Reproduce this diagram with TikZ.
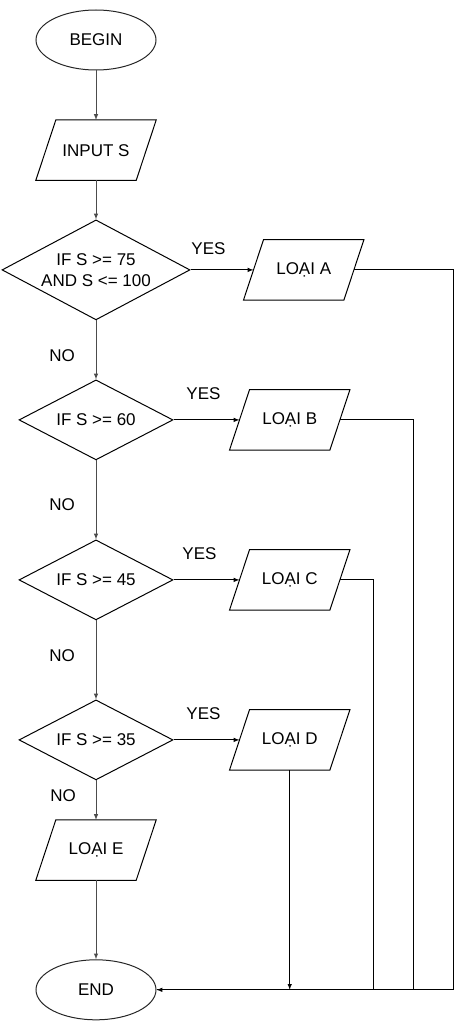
\documentclass[tikz,border=0pt]{standalone}
\usepackage{fontspec}
\setmainfont{Liberation Sans}
\usetikzlibrary{positioning,shapes.geometric}

\begin{document}
\begin{tikzpicture}[x=1pt,y=1pt]
\tikzstyle{txt}=[font=\fontsize{17pt}{21pt}\selectfont]
\tikzstyle{term}=[txt, ellipse, draw=black!85, line width=1pt, minimum width=120pt, minimum height=60pt, inner sep=0pt]
\tikzstyle{io}=[txt, rectangle, minimum width=100pt, minimum height=60pt, inner sep=0pt]
\tikzstyle{cond}=[txt, diamond, aspect=1.9, draw=black, line width=1pt, minimum width=154pt, minimum height=80pt, inner sep=0pt, align=center]
\tikzstyle{connect}=[-latex, line width=1pt]
\tikzstyle{down}=[-latex, line width=1pt, draw=black!70]
\tikzstyle{plain}=[line width=1pt]

  \useasboundingbox (0,0) rectangle (462,-1022);

    % main column
  \node[term] (begin) at (96,-40) {BEGIN};
  \node[io] (input) [below=49.5pt of begin] {INPUT S};
  \node[cond, minimum width=188pt, minimum height=100pt] (if1) [below=39pt of input] {IF S >= 75\\AND S <= 100};
  \node[cond] (if2) [below=59pt of if1] {IF S >= 60};
  \node[cond] (if3) [below=79pt of if2] {IF S >= 45};
  \node[cond] (if4) [below=79pt of if3] {IF S >= 35};
  \node[io] (loaiE) [below=39.5pt of if4] {LOẠI E};
  \node[term] (end) [below=79pt of loaiE] {END};

    % right column
  \node[io] (loaiA) [right=63pt of if1] {LOẠI A};
  \node[io] (loaiB) [right=66pt of if2] {LOẠI B};
  \node[io] (loaiC) [right=66pt of if3] {LOẠI C};
  \node[io] (loaiD) [right=66pt of if4] {LOẠI D};

    % parallelogram outlines
  \foreach \n in {input,loaiA,loaiB,loaiC,loaiD,loaiE}
    \draw[plain] ([xshift=-10pt]\n.south west) -- ([xshift=-10pt]\n.south east)
      -- ([xshift=10pt]\n.north east) -- ([xshift=10pt]\n.north west) -- cycle;

  \coordinate (cornA) at (453,0 |- loaiA.east);
  \coordinate (cornB) at (413,0 |- loaiB.east);
  \coordinate (cornC) at (373,0 |- loaiC.east);

    % labels
  \node[txt, xshift=18pt, yshift=21pt] (yes1) at (if1.east) {YES};
  \node[txt, xshift=30pt, yshift=26pt] (yes2) at (if2.east) {YES};
  \node[txt, xshift=26pt, yshift=26pt] (yes3) at (if3.east) {YES};
  \node[txt, xshift=30pt, yshift=26pt] (yes4) at (if4.east) {YES};
  \node[txt, xshift=-34pt, yshift=-35pt] (no1) at (if1.south) {NO};
  \node[txt, xshift=-34pt, yshift=-44pt] (no2) at (if2.south) {NO};
  \node[txt, xshift=-34pt, yshift=-35pt] (no3) at (if3.south) {NO};
  \node[txt, xshift=-33pt, yshift=-15pt] (no4) at (if4.south) {NO};

    % edges
  \path (begin) edge [down] (input)
        (input) edge [down] (if1)
        (if1) edge [down] (if2)
        (if2) edge [down] (if3)
        (if3) edge [down] (if4)
        (if4) edge [down] (loaiE)
        (loaiE) edge [down] (end)
        (if1) edge [connect] (loaiA)
        (if2) edge [connect] (loaiB)
        (if3) edge [connect] (loaiC)
        (if4) edge [connect] (loaiD);

  \draw[connect] (loaiA.east) -- (cornA) |- (end.east);
  \draw[plain] (loaiB.east) -- (cornB) |- (end.east);
  \draw[plain] (loaiC.east) -- (cornC) |- (end.east);
  \draw[connect] (loaiD.south) -- (loaiD.south |- end.east);

\end{tikzpicture}
\end{document}
